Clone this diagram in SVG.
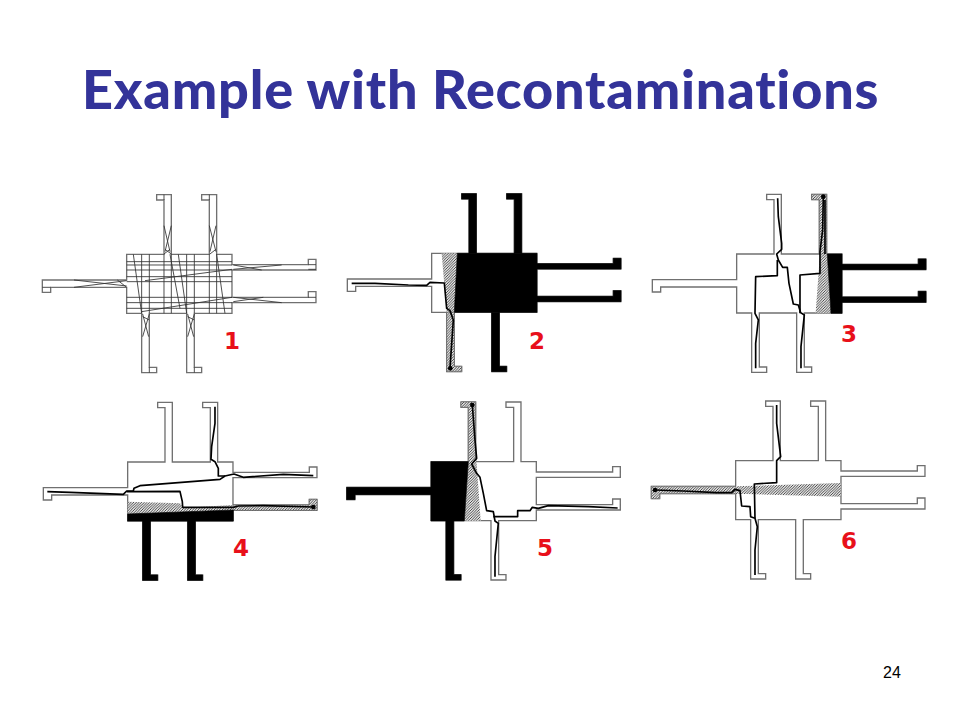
<svg xmlns="http://www.w3.org/2000/svg" width="960" height="720" viewBox="0 0 960 720">
<style>
.o{fill:none;stroke:#707070;stroke-width:4}
.k{fill:#000;stroke:#000;stroke-width:2}
.h{fill:url(#hatch);stroke:#666;stroke-width:2}
.hn{fill:url(#hatch);stroke:none}
.w{fill:none;stroke:#000;stroke-width:5;stroke-linejoin:round}
.g{fill:none;stroke:#333;stroke-width:2.6}
.n{font-family:"DejaVu Sans","Liberation Sans",sans-serif;font-weight:700;font-size:23px;fill:#e8101a;text-anchor:middle}
</style>
<defs>
<pattern id="hatch" patternUnits="userSpaceOnUse" width="8" height="8">
<rect width="8" height="8" fill="#e6e6e6"/>
<path d="M-2,2 L2,-2 M0,8 L8,0 M6,10 L10,6" stroke="#333" stroke-width="2.6"/>
</pattern>
<path id="outline" d="M0,0 H112 V-163 H90 V-179 H134 V0 H248 V-163 H225 V-179 H270 V0 H316 V31 H545 V15 H568 V47 H316 V129 H545 V112 H568 V145 H316 V177 H203 V339 H225 V355 H180 V177 H68 V339 H90 V355 H45 V177 H0 V99 H-228 V114 H-253 V77 H0 Z"/>
<path id="t1" d="M112,0 V-163 H90 V-179 H134 V0 Z"/>
<path id="t2" d="M248,0 V-163 H225 V-179 H270 V0 Z"/>
<path id="r1" d="M316,31 H545 V15 H568 V47 H316 Z"/>
<path id="r2" d="M316,129 H545 V112 H568 V145 H316 Z"/>
<path id="b1" d="M68,177 V339 H90 V355 H45 V177 Z"/>
<path id="b2" d="M203,177 V339 H225 V355 H180 V177 Z"/>
<path id="l" d="M0,99 H-228 V114 H-253 V77 H0 Z"/>
</defs>
<text x="82" y="109" font-family="Lato,'Open Sans','Liberation Sans',sans-serif" font-weight="900" font-size="54" fill="#333399" letter-spacing="0.78">Example with Recontaminations</text>

<g id="panel1" transform="translate(30,180) scale(.3333)">
<use href="#outline" x="290" y="223" class="o"/>
<path class="g" d="M335,223V400M358,223V400M402,223V400M424,223V400M470,223V400M493,223V400M538,223V400M560,223V400M290,245H606M290,255H606M290,270H606M290,290H606M290,305H606M290,352H606M290,368H606M290,385H606"/>
<path class="g" d="M310,223L335,400M420,223L450,385M445,223L470,400M560,223L585,400M606,268L345,302M606,352L335,395"/>
<path class="g" d="M402,137L420,215M424,137L405,215M402,222L420,208M424,222L405,208M538,137L558,215M558,137L540,215M540,222L558,208M338,402L356,470M358,402L338,470M338,410L358,420M473,402L491,470M493,402L473,470M473,410L493,420M132,300L290,318M132,322L290,302M262,300L290,322M610,268L755,255M610,255L695,270M610,352L755,368M610,365L700,352"/>
<path class="g" d="M402,44V60M538,44V60M358,562V578M493,562V578M37,322H62M835,254H858M835,352H858M835,268H858"/>
</g>
<text class="n" x="232" y="349">1</text>

<g id="panel2" transform="translate(335,180) scale(.3333)">
<use href="#outline" x="290" y="220" class="o"/>
<path class="hn" d="M320,220H367L358,397H335Z"/>
<use href="#b1" x="290" y="220" class="h"/>
<path class="k" d="M367,220H606V397H358Z"/>
<use href="#t1" x="290" y="220" class="k"/>
<use href="#t2" x="290" y="220" class="k"/>
<use href="#r1" x="290" y="220" class="k"/>
<use href="#r2" x="290" y="220" class="k"/>
<use href="#b2" x="290" y="220" class="k"/>
<path class="w" d="M50,310L120,310L220,315L275,316L285,307L328,309L335,385L345,392L355,420L345,565"/>
<circle cx="346" cy="565" r="7"/>
</g>
<text class="n" x="537" y="349">2</text>

<g id="panel3" transform="translate(640,180) scale(.3333)">
<use href="#outline" x="290" y="222" class="o"/>
<use href="#t2" x="290" y="222" class="h"/>
<path class="hn" d="M540,222H562L573,400H527Z"/>
<path class="k" d="M562,222H606V400H573Z"/>
<use href="#r1" x="290" y="222" class="k"/>
<use href="#r2" x="290" y="222" class="k"/>
<path class="w" d="M413,55L415,110L425,190L425,208L410,222L415,240L428,262L442,262L447,310L460,372L475,375L482,398L493,405L483,500L483,565"/>
<path class="w" d="M347,565L347,490L355,420L345,400L347,290L412,287L412,240"/>
<path class="w" d="M480,400L480,285L540,280L540,215L548,150L550,50M555,60L555,222"/>
<circle cx="550" cy="50" r="7"/>
</g>
<text class="n" x="849" y="342">3</text>

<g id="panel4" transform="translate(30,390) scale(.3333)">
<use href="#outline" x="293" y="216" class="o"/>
<use href="#r2" x="293" y="216" class="h"/>
<path class="hn" d="M293,335L450,340L460,353L610,345V360L293,375Z"/>
<path class="k" d="M293,372L610,360V393H293Z"/>
<use href="#b1" x="293" y="216" class="k"/>
<use href="#b2" x="293" y="216" class="k"/>
<path class="w" d="M52,305L120,307L280,313L290,303L310,303L312,295L330,287L570,268L585,258L612,252L640,262L760,253L850,257"/>
<path class="w" d="M555,50L555,100L545,170L543,208L555,215L565,235L565,258L585,258"/>
<path class="w" d="M290,305L450,304L457,335L458,352L610,352L625,348L700,347L850,351"/>
<circle cx="850" cy="351" r="7"/>
</g>
<text class="n" x="241" y="556">4</text>

<g id="panel5" transform="translate(335,390) scale(.3333)">
<use href="#outline" x="288" y="215" class="o"/>
<use href="#t1" x="288" y="215" class="h"/>
<path class="hn" d="M400,215L424,205L437,393H388Z"/>
<path class="k" d="M288,215H400L388,393H288Z"/>
<use href="#l" x="288" y="215" class="k"/>
<use href="#b1" x="288" y="215" class="k"/>
<path class="w" d="M412,45L420,150L425,205L410,222L425,250L435,262L445,310L455,362L475,365L480,393L490,400L480,500L480,560"/>
<path class="w" d="M475,380L548,380L548,362L585,362L592,352L610,355L640,347L760,350L848,354"/>
<circle cx="412" cy="45" r="7"/>
</g>
<text class="n" x="545" y="556">5</text>

<g id="panel6" transform="translate(640,390) scale(.3333)">
<use href="#outline" x="287" y="212" class="o"/>
<use href="#l" x="287" y="212" class="h"/>
<path class="hn" d="M287,289L602,279V320L320,312H287Z"/>
<path class="w" d="M45,300L130,303L230,308L275,308L285,298L300,302L305,348L330,350L332,380L345,385L352,410L345,480L345,555"/>
<path class="w" d="M345,385L343,282L410,278L410,212L422,200L410,100L410,45"/>
<circle cx="45" cy="300" r="7"/>
</g>
<text class="n" x="849" y="549">6</text>

<text x="892" y="678" font-family="'Liberation Sans',Arial,sans-serif" font-size="16" fill="#000" text-anchor="middle">24</text>
</svg>
